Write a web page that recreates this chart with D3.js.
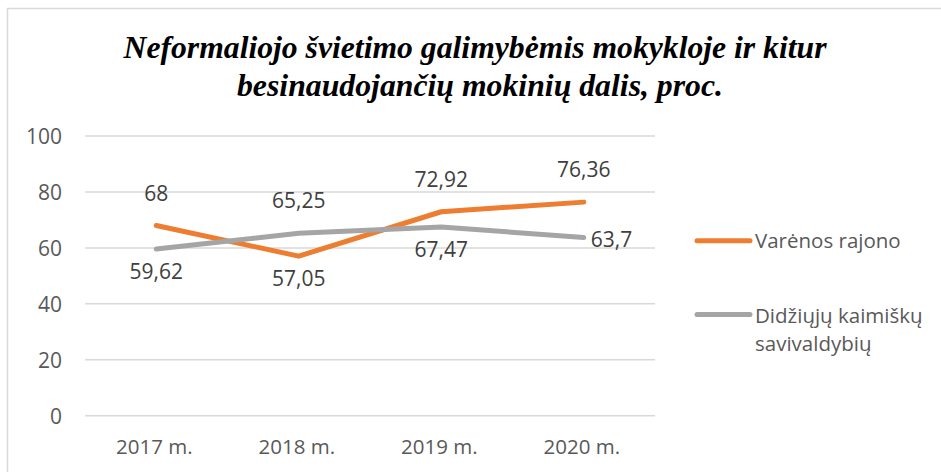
<!DOCTYPE html>
<html>
<head>
<meta charset="utf-8">
<script src="https://cdn.jsdelivr.net/npm/d3@7"></script>
<style>
  html, body { margin: 0; padding: 0; background: #fff; }
  svg { display: block; }
</style>
</head>
<body>
<svg id="chart" width="941" height="472"></svg>
<script>
// ---- data ----
const titleLines = ["Neformaliojo švietimo galimybėmis mokykloje ir kitur", "besinaudojančių mokinių dalis, proc."];
const categories = ["2017 m.", "2018 m.", "2019 m.", "2020 m."];
const seriesNames = ["Varėnos rajono", "Didžiųjų kaimiškų savivaldybių"];
const varenaValues = [68, 57.05, 72.92, 76.36];
const didziujuValues = [59.62, 65.25, 67.47, 63.7];
const yTicks = [0, 20, 40, 60, 80, 100];
// label placement per point (style, not data)
const varenaLabelPos = ["above", "below", "above", "above"];
const didziujuLabelPos = ["below", "above", "below", "right"];

const fmt = v => String(v).replace(".", ",");

const svg = d3.select("#chart");
const W = 941, H = 472;
svg.append("rect").attr("width", W).attr("height", H).attr("fill", "#fff");
// chart border (extends past right/bottom edge)
svg.append("rect").attr("x", 7.5).attr("y", 8.5).attr("width", 1000).attr("height", 1000)
  .attr("fill", "none").attr("stroke", "#d9d9d9").attr("stroke-width", 1.5);

// title
const title = svg.append("text").attr("text-anchor", "middle")
  .style("font-family", "'Liberation Serif', 'Times New Roman', serif")
  .style("font-weight", "bold").style("font-style", "italic")
  .style("font-size", "30.5px").attr("fill", "#000");
title.append("tspan").attr("x", 475).attr("y", 57.5).attr("textLength", 703)
  .attr("lengthAdjust", "spacingAndGlyphs").text(titleLines[0]);
title.append("tspan").attr("x", 480).attr("y", 96).attr("textLength", 486)
  .attr("lengthAdjust", "spacingAndGlyphs").text(titleLines[1]);

const plot = { left: 85, right: 655, top: 136, bottom: 415.7 };
const x = d3.scaleBand().domain(categories).range([plot.left, plot.right]);
const y = d3.scaleLinear().domain([0, 100]).range([plot.bottom, plot.top]);
const cx = c => x(c) + x.bandwidth() / 2;

const font = "'Open Sans', 'Noto Sans', sans-serif";

// gridlines
svg.append("g").selectAll("line").data(yTicks).join("line")
  .attr("x1", plot.left).attr("x2", plot.right)
  .attr("y1", d => y(d)).attr("y2", d => y(d))
  .attr("stroke", "#d9d9d9").attr("stroke-width", 1.5);

// y axis labels
const yAxis = d3.axisLeft(y).tickValues(yTicks).tickSize(0).tickPadding(0);
const yg = svg.append("g").attr("transform", `translate(62,0)`).call(yAxis);
yg.select(".domain").remove();
yg.selectAll("text").style("font-family", font).style("font-size", "21px")
  .attr("fill", "#595959").attr("dy", "0.36em");

// x axis labels
const xAxis = d3.axisBottom(x).tickSize(0).tickPadding(0);
const xg = svg.append("g").attr("transform", `translate(-2,453.5)`).call(xAxis);
xg.select(".domain").remove();
xg.selectAll("text").style("font-family", font).style("font-size", "20.5px")
  .attr("fill", "#595959").attr("dy", 0).attr("y", 0);

const series = [
  { name: seriesNames[0], values: varenaValues, color: "#ED7D31", pos: varenaLabelPos },
  { name: seriesNames[1], values: didziujuValues, color: "#A5A5A5", pos: didziujuLabelPos }
];

const line = d3.line().x((d, i) => cx(categories[i])).y(d => y(d));

series.forEach(s => {
  svg.append("path").datum(s.values).attr("d", line)
    .attr("fill", "none").attr("stroke", s.color).attr("stroke-width", 5)
    .attr("stroke-linecap", "round").attr("stroke-linejoin", "round");
});

// data labels
series.forEach(s => {
  svg.append("g").selectAll("text").data(s.values).join("text")
    .attr("x", (d, i) => s.pos[i] === "right" ? cx(categories[i]) + 7 : cx(categories[i]))
    .attr("y", (d, i) => {
      const py = y(d);
      if (s.pos[i] === "above") return py - 25;
      if (s.pos[i] === "below") return py + 30;
      return py + 9;
    })
    .attr("text-anchor", (d, i) => s.pos[i] === "right" ? "start" : "middle")
    .style("font-family", font).style("font-size", "21px").attr("fill", "#404040")
    .text(d => fmt(d));
});

// legend
const legend = svg.append("g");
const legendItems = [
  { color: series[0].color, lines: ["Varėnos rajono"], ly: 240.7, ty: 248 },
  { color: series[1].color, lines: ["Didžiųjų kaimiškų", "savivaldybių"], ly: 314.5, ty: 322.5 }
];
legendItems.forEach(it => {
  legend.append("line").attr("x1", 697).attr("x2", 750).attr("y1", it.ly).attr("y2", it.ly)
    .attr("stroke", it.color).attr("stroke-width", 5).attr("stroke-linecap", "round");
  const t = legend.append("text").style("font-family", font).style("font-size", "20.5px").attr("fill", "#595959");
  it.lines.forEach((l, k) => t.append("tspan").attr("x", 755).attr("y", it.ty + k * 28).text(l));
});
</script>
</body>
</html>
